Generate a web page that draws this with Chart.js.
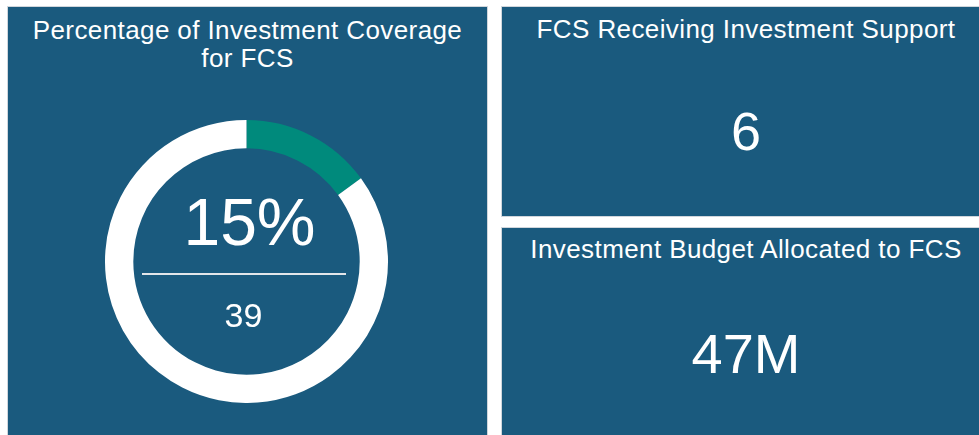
<!DOCTYPE html>
<html>
<head>
<meta charset="utf-8">
<script src="https://cdn.jsdelivr.net/npm/chart.js@4/dist/chart.umd.min.js"></script>
<style>
body { margin:0; background:#ffffff; width:979px; height:435px; overflow:hidden; font-family:"Liberation Sans", Arial, sans-serif; }
.panel { position:absolute; background:#1a5a7e; box-shadow:0 0 0 1px #d0d6dc; }
.txt { position:absolute; color:#ffffff; text-align:center; white-space:nowrap; line-height:1; }
.ttl { font-size:26px; letter-spacing:0.4px; }
</style>
</head>
<body>
<div class="panel" style="left:8px;top:7px;width:479px;height:440px;"></div>
<div class="panel" style="left:502px;top:7px;width:490px;height:209px;"></div>
<div class="panel" style="left:502px;top:228px;width:490px;height:220px;"></div>

<div class="txt ttl" id="donutTitle" style="left:8px;width:479px;top:16.3px;line-height:28px;"></div>
<div style="position:absolute;left:105px;top:120px;width:283px;height:283px;">
  <canvas id="myChart" width="283" height="283"></canvas>
</div>
<div class="txt" id="pctText" style="left:10px;width:479px;top:189px;font-size:66px;"></div>
<div style="position:absolute;left:142px;top:273px;width:204px;height:2px;background:#e3e6ea;"></div>
<div class="txt" id="countText" style="left:4px;width:479px;top:298px;font-size:34px;"></div>

<div class="txt ttl" id="kpiTitle0" style="left:502px;width:488px;top:15.7px;"></div>
<div class="txt" id="kpiValue0" style="left:502px;width:488px;top:104px;font-size:54px;"></div>
<div class="txt ttl" id="kpiTitle1" style="left:502px;width:488px;top:236px;"></div>
<div class="txt" id="kpiValue1" style="left:502px;width:488px;top:325.5px;font-size:56px;"></div>

<script>
// donut: share of FCS covered by investment
var donutLabels = ['Covered', 'Not covered'];
var donutValues = [15, 85];
var donutColors = ['#008a7c', '#ffffff'];
var donutTitle = ['Percentage of Investment Coverage', 'for FCS'];
var coveredCount = 39;

// the two cards on the right
var kpiTitles = ['FCS Receiving Investment Support', 'Investment Budget Allocated to FCS'];
var kpiValues = ['6', '47M'];

document.getElementById('donutTitle').innerHTML = donutTitle.join('<br>');
document.getElementById('pctText').textContent = donutValues[0] + '%';
document.getElementById('countText').textContent = coveredCount;
for (var i = 0; i < kpiTitles.length; i++) {
    document.getElementById('kpiTitle' + i).textContent = kpiTitles[i];
    document.getElementById('kpiValue' + i).textContent = kpiValues[i];
}

var ctx = document.getElementById('myChart').getContext('2d');
var chart = new Chart(ctx, {
    type: 'doughnut',
    data: {
        labels: donutLabels,
        datasets: [{
            data: donutValues,
            backgroundColor: donutColors,
            borderWidth: 0
        }]
    },
    options: {
        responsive: false,
        animation: false,
        cutout: '80%',
        layout: { padding: 0 },
        plugins: {
            legend: { display: false },
            tooltip: { enabled: false }
        }
    }
});
</script>
</body>
</html>
